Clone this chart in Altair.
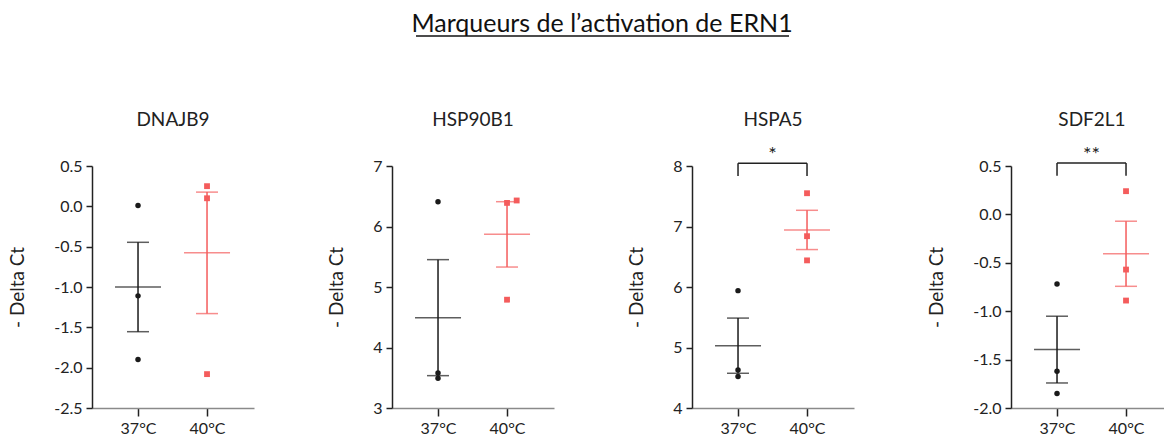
import altair as alt
import pandas as pd

# ---- data -------------------------------------------------------------
main_title = "Marqueurs de l\u2019activation de ERN1"
genes = ["DNAJB9", "HSP90B1", "HSPA5", "SDF2L1"]
conditions = ["37°C", "40°C"]

# -Delta Ct per replicate, [37°C values, 40°C values]
values = {
    "DNAJB9": [[0.01, -1.11, -1.90], [0.25, 0.10, -2.08]],
    "HSP90B1": [[6.41, 3.58, 3.49], [6.39, 6.43, 4.79]],
    "HSPA5": [[5.94, 4.63, 4.52], [7.55, 6.84, 6.44]],
    "SDF2L1": [[-0.72, -1.62, -1.85], [0.24, -0.57, -0.89]],
}
# horizontal spread of overlapping replicates (in category units)
jitter = {
    "HSP90B1": [[0, 0, 0], [0, 0.14, 0]],
}
y_domains = {
    "DNAJB9": [-2.5, 0.5],
    "HSP90B1": [3, 7],
    "HSPA5": [4, 8],
    "SDF2L1": [-2.0, 0.5],
}
y_steps = {"DNAJB9": 0.5, "HSP90B1": 1, "HSPA5": 1, "SDF2L1": 0.5}
y_formats = {"DNAJB9": ".1f", "HSP90B1": "d", "HSPA5": "d", "SDF2L1": ".1f"}
# significance brackets: (label, bracket level, end of the drop lines)
signif = {
    "HSPA5": ("*", 8.045, 7.835),
    "SDF2L1": ("**", 0.531, 0.40),
}

# ---- style ------------------------------------------------------------
FONT = "Lato"
TEXT = "#222222"
point_colors = ["#000000", "#FF3B3B"]
line_colors = ["#1A1A1A", "#F45C5C"]
panel_widths = [162, 162, 162, 153]
PANEL_H = 242
PX_PER_UNIT = 69
X_LO = -0.667


def frange(a, b, step):
    out, v = [], a
    while v <= b + 1e-9:
        out.append(round(v, 6))
        v += step
    return out


label_expr = " : ".join(
    f"datum.value == {i} ? '{c}'" for i, c in enumerate(conditions)
) + " : ''"


def panel(gene, width):
    rows = []
    for ci, cond in enumerate(conditions):
        for ri, v in enumerate(values[gene][ci]):
            dx = jitter.get(gene, [[0] * 3, [0] * 3])[ci][ri]
            rows.append({"condition": cond, "idx": ci, "xpos": ci + dx, "value": v})
    df = pd.DataFrame(rows)

    lo, hi = y_domains[gene]
    x_scale = alt.Scale(domain=[X_LO, X_LO + width / PX_PER_UNIT], nice=False, zero=False)
    y_scale = alt.Scale(domain=[lo, hi], nice=False, zero=False)
    x_axis = alt.Axis(
        values=list(range(len(conditions))), labelExpr=label_expr, title=None,
        grid=False, domainColor="#8A8A8A", domainWidth=1.5, tickColor="#222222",
        tickWidth=1.5, tickSize=8, labelPadding=4, labelFontSize=16,
        labelColor=TEXT, labelFont=FONT,
    )
    y_axis = alt.Axis(
        values=frange(lo, hi, y_steps[gene]),
        labelExpr=f"replace(format(datum.value, '{y_formats[gene]}'), '\u2212', '-')",
        title="- Delta Ct", titleFontSize=19, titleFontWeight="normal",
        titleColor=TEXT, titleFont=FONT, titlePadding=26, grid=False,
        domainColor="#222222", domainWidth=1.5, tickColor="#222222",
        tickWidth=1.5, tickSize=6, labelPadding=4, labelFontSize=16,
        labelColor=TEXT, labelFont=FONT,
    )

    def X(field):
        return alt.X(field, type="quantitative", scale=x_scale, axis=x_axis)

    def Y(field):
        return alt.Y(field, type="quantitative", scale=y_scale, axis=y_axis)

    cond_color = alt.Color(
        "condition:N", scale=alt.Scale(domain=conditions, range=line_colors), legend=None
    )

    base = alt.Chart(df)
    stats = base.transform_aggregate(
        mean="mean(value)", sem="stderr(value)", groupby=["condition", "idx"]
    ).transform_calculate(lo="datum.mean - datum.sem", hi="datum.mean + datum.sem")

    whisker = stats.mark_rule(strokeWidth=1.5).encode(
        x=X("idx"), y=Y("lo"), y2="hi:Q", color=cond_color
    )
    caps = stats.transform_fold(["lo", "hi"], as_=["end", "level"]).mark_tick(
        orient="horizontal", size=22, thickness=1.5
    ).encode(x=X("idx"), y=Y("level"), color=cond_color)
    mean_tick = stats.mark_tick(orient="horizontal", size=46, thickness=1.5).encode(
        x=X("idx"), y=Y("mean"), color=cond_color
    )
    points = base.mark_point(filled=True, opacity=1).encode(
        x=X("xpos"),
        y=Y("value"),
        color=alt.Color(
            "condition:N", scale=alt.Scale(domain=conditions, range=point_colors), legend=None
        ),
        shape=alt.Shape(
            "condition:N", scale=alt.Scale(domain=conditions, range=["circle", "square"]), legend=None
        ),
        size=alt.Size(
            "condition:N", scale=alt.Scale(domain=conditions, range=[30, 34]), legend=None
        ),
    )
    # panel heading, centred over the plot area
    heading = alt.Chart(pd.DataFrame({"t": [gene]})).mark_text(
        font=FONT, fontSize=19, color=TEXT, baseline="alphabetic", align="center"
    ).encode(x=alt.value(162 / 2), y=alt.value(-40), text="t:N")
    layers = [whisker, caps, mean_tick, points, heading]

    if gene in signif:
        label, top, drop = signif[gene]
        br = pd.DataFrame({"idx": [0, 1], "top": [top, top], "drop": [drop, drop]})
        bar = alt.Chart(br).mark_rule(color="#222222", strokeWidth=1.5).encode(
            x=X("min(idx)"), x2="max(idx)", y=Y("mean(top)")
        )
        legs = alt.Chart(br).mark_rule(color="#222222", strokeWidth=1.5).encode(
            x=X("idx"), y=Y("drop"), y2="top:Q"
        )
        star = alt.Chart(pd.DataFrame({"x": [0.5], "y": [top], "t": [label]})).mark_text(
            fontSize=20, font=FONT, color=TEXT, dy=2, baseline="bottom"
        ).encode(x=X("x"), y=Y("y"), text="t:N")
        layers += [bar, legs, star]

    return alt.layer(*layers).properties(width=width, height=PANEL_H)


panels = alt.hconcat(
    *[panel(g, w) for g, w in zip(genes, panel_widths)], spacing=73
)

# header with the underlined main title
hdr = pd.DataFrame({"t": [main_title]})
title_text = alt.Chart(hdr).mark_text(
    font=FONT, fontSize=25, color="#111111", baseline="alphabetic", align="center"
).encode(x=alt.value(510), y=alt.value(32), text="t:N")
underline = alt.Chart(hdr).mark_rule(color="#111111", strokeWidth=1.5).encode(
    x=alt.value(324), x2=alt.value(697), y=alt.value(36)
)
header = alt.layer(title_text, underline).properties(width=1000, height=40)

chart = alt.vconcat(header, panels, spacing=71).properties(
    padding={"left": 8, "top": 0, "right": 0, "bottom": 0}
).configure(font=FONT, view=alt.ViewConfig(stroke=None))

chart.save("out.html", embed_options={"renderer": "svg", "actions": False})
